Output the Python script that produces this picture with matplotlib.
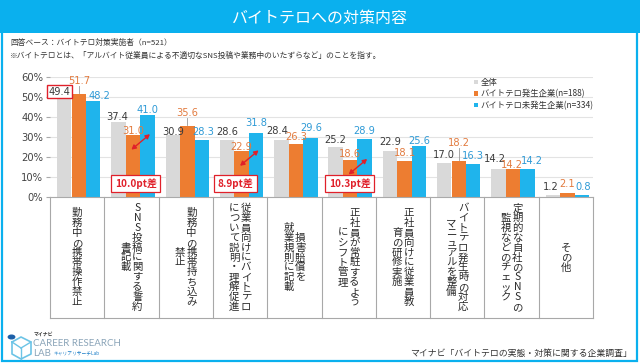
import matplotlib
matplotlib.use('Agg')
import matplotlib.pyplot as plt
from matplotlib.patches import Rectangle, Patch, FancyArrowPatch
from matplotlib.lines import Line2D
import numpy as np

plt.rcParams['font.family'] = ['Noto Sans CJK JP', 'DejaVu Sans']

# ---------------- data ----------------
title = 'バイトテロへの対策内容'
note1 = '回答ベース：バイトテロ対策実施者（n=521）'
note2 = '※バイトテロとは、「アルバイト従業員による不適切なSNS投稿や業務中のいたずらなど」のことを指す。'
source = 'マイナビ「バイトテロの実態・対策に関する企業調査」'

# each category: columns of vertical text, first column is the rightmost
categories = [
    ['勤務中の携帯操作禁止'],
    ['SNS投稿に関する誓約', '書記載'],
    ['勤務中の携帯持ち込み', '禁止'],
    ['従業員向けにバイトテロ', 'について説明・理解促進'],
    ['損害賠償を', '就業規則に記載'],
    ['正社員が常駐するよう', 'にシフト管理'],
    ['正社員向けに従業員教', '育の研修実施'],
    ['バイトテロ発生時の対応', 'マニュアルを整備'],
    ['定期的な自社のSNSの', '監視などのチェック'],
    ['その他'],
]
series_names = ['全体', 'バイトテロ発生企業(n=188)', 'バイトテロ未発生企業(n=334)']
all_vals = [49.4, 37.4, 30.9, 28.6, 28.4, 25.2, 22.9, 17.0, 14.2, 1.2]
occurred_vals = [51.7, 31.0, 35.6, 22.9, 26.3, 18.6, 18.1, 18.2, 14.2, 2.1]
not_occurred_vals = [48.2, 41.0, 28.3, 31.8, 29.6, 28.9, 25.6, 16.3, 14.2, 0.8]
yticks = [0, 10, 20, 30, 40, 50, 60]
ytick_labels = ['0%', '10%', '20%', '30%', '40%', '50%', '60%']
gap_groups = [1, 3, 5]
gap_texts = ['10.0pt差', '8.9pt差', '10.3pt差']

# ---------------- styles / placement ----------------
colors = ['#D9D9D9', '#ED7D31', '#1FB4EC']
text_colors = ['#3A3A3A', '#E27B3F', '#2E9AD6']
offsets = [-0.24, 0.03, 0.295]
width = 0.265
label_y = [
    [52.6, 40.0, 32.5, 32.5, 32.8, 28.5, 27.5, 21.0, 19.0, 5.0],
    [58.0, 33.0, 42.0, 25.0, 29.8, 21.5, 22.0, 27.0, 15.8, 6.5],
    [50.5, 43.5, 32.5, 37.0, 34.5, 33.0, 28.0, 20.5, 17.8, 5.0],
]
label_dx = [
    [-0.09, -0.03, 0, 0, -0.08, 0, 0, 0, -0.06, -0.03],
    [0, 0, 0, 0, 0.01, 0, 0, 0, -0.02, 0],
    [0.12, 0, 0.02, 0, 0.02, 0, 0, 0, 0.07, 0.03],
]
leader_groups = [0, 2, 7]
gap_box_x = [1.08, 2.92, 5.02]

W, H = 640, 363
fig = plt.figure(figsize=(W / 100, H / 100), dpi=100)
fx = lambda px: px / W
fy = lambda py: 1 - py / H

# frame + title bar
CYAN = '#0AB0EE'
fig.patches.append(Rectangle((fx(2), fy(361)), fx(635), (361 - 0) / H,
                             transform=fig.transFigure, facecolor='none',
                             edgecolor=CYAN, lw=1.6))
fig.patches.append(Rectangle((0, fy(33)), 1, 33 / H, transform=fig.transFigure,
                             facecolor=CYAN, edgecolor='none'))
fig.text(0.5, fy(18), title, color='white', fontsize=11.5, ha='center', va='center')
fig.text(fx(10), fy(43), note1, color='#333333', fontsize=5.6, ha='left', va='center')
fig.text(fx(10), fy(55.5), note2, color='#333333', fontsize=5.6, ha='left', va='center')

ax = fig.add_axes([fx(50), fy(197), (593 - 50) / W, (197 - 77) / H])
x = np.arange(len(all_vals))
series = [all_vals, occurred_vals, not_occurred_vals]
for s, vals in enumerate(series):
    ax.bar(x + offsets[s], vals, width=width, color=colors[s], zorder=2,
           label=series_names[s])
    for i, v in enumerate(vals):
        ax.text(i + offsets[s] + label_dx[s][i], label_y[s][i], f'{v:.1f}',
                color=text_colors[s], fontsize=7.1, ha='center', va='center',
                zorder=4, family=['DejaVu Sans'])

# red box around first overall label
ax.texts[0].set_bbox(dict(boxstyle='square,pad=0.15', facecolor='white',
                          edgecolor='#E0202A', lw=1.0))
ax.texts[0].set_zorder(5)

# leader lines for orange labels
for g in leader_groups:
    ax.plot([g + offsets[1], g + offsets[1]],
            [label_y[1][g] - 2.6, occurred_vals[g] + 0.3],
            color='#999999', lw=0.6, zorder=3)

# gap arrows and boxes
for k, g in enumerate(gap_groups):
    ov = occurred_vals[g]
    arr = FancyArrowPatch((g + 0.0, ov - 7.3), (g + 0.34, ov + 0.4),
                          arrowstyle='<|-|>,head_length=2.5,head_width=1.4',
                          color='#E0202A', lw=1.0, zorder=5,
                          shrinkA=0, shrinkB=0)
    ax.add_patch(arr)
    ax.text(gap_box_x[k], 6.8, gap_texts[k], color='#E0202A', fontsize=7.2,
            fontweight='bold', ha='center', va='center', zorder=6,
            bbox=dict(boxstyle='square,pad=0.35', facecolor='white',
                      edgecolor='#E0202A', lw=0.9))

ax.set_xlim(-0.5, len(all_vals) - 0.5)
ax.set_ylim(0, 60)
ax.set_yticks(yticks)
ax.set_yticklabels(ytick_labels, fontsize=7.2, color='#444444',
                   family=['DejaVu Sans'])
ax.set_xticks([])
ax.tick_params(axis='y', length=3, color='#AAAAAA', pad=2)
ax.grid(axis='y', color='#E3E3E3', lw=0.8, zorder=0)
for sp in ['top', 'right', 'left']:
    ax.spines[sp].set_visible(False)
ax.spines['bottom'].set_color('#AAAAAA')
ax.spines['bottom'].set_linewidth(0.8)

# category table
trans = ax.get_xaxis_transform()
box_bottom = -(318 - 197) / (197 - 77)
for k in range(len(all_vals) + 1):
    ax.plot([k - 0.5, k - 0.5], [0, box_bottom], transform=trans,
            color='#A8A8A8', lw=0.8, clip_on=False)
ax.plot([-0.5, len(all_vals) - 0.5], [box_bottom, box_bottom], transform=trans,
        color='#A8A8A8', lw=0.8, clip_on=False)
col_step = 0.215
for i, cols in enumerate(categories):
    n = len(cols)
    for j, col in enumerate(cols):
        xc = i + (n - 1) / 2 * col_step - j * col_step
        ax.text(xc, box_bottom / 2, '\n'.join(col), transform=trans,
                ha='center', va='center', multialignment='center',
                fontsize=7.5, linespacing=0.98, color='#2A2A2A', clip_on=False)

# legend
handles = [Patch(facecolor=c, edgecolor='none') for c in colors]
leg = fig.legend(handles, series_names, loc='upper left',
                 bbox_to_anchor=(fx(474), fy(78)), frameon=False, fontsize=6,
                 handlelength=0.45, handleheight=0.45, handletextpad=0.3,
                 labelspacing=0.3, borderpad=0, borderaxespad=0)
for t in leg.get_texts():
    t.set_color('#333333')

# logo
ic = '#6CC4E6'
pts = [(12, 342), (21, 337), (31, 342), (31, 354), (21, 359), (12, 354), (12, 342)]
fig.add_artist(Line2D([fx(p[0]) for p in pts], [fy(p[1]) for p in pts],
                      color=ic, lw=1.2))
for a, b in [((21, 348), (21, 359)), ((21, 348), (12, 342)), ((21, 348), (31, 342))]:
    fig.add_artist(Line2D([fx(a[0]), fx(b[0])], [fy(a[1]), fy(b[1])], color=ic, lw=1.0))
fig.add_artist(plt.Circle((fx(11.5), fy(337)), 3.2 / W, transform=fig.transFigure,
                          color='#1C5FA8'))
fig.text(fx(34), fy(334), 'マイナビ', fontsize=3.5, color='#333333', fontweight='bold',
         ha='left', va='center')
fig.text(fx(33), fy(343), 'CAREER RESEARCH', fontsize=7, color='#8AA4B8',
         ha='left', va='center', family=['Lato', 'DejaVu Sans'])
fig.text(fx(33), fy(353), 'LAB', fontsize=7, color='#8AA4B8', ha='left', va='center',
         family=['Lato', 'DejaVu Sans'])
fig.text(fx(53), fy(353), 'キャリアリサーチLab', fontsize=3.4, color='#1C7FC8',
         ha='left', va='center')

fig.text(fx(632), fy(353), source, fontsize=6.4, color='#333333', ha='right',
         va='center')

fig.savefig('out.png', dpi=100)
